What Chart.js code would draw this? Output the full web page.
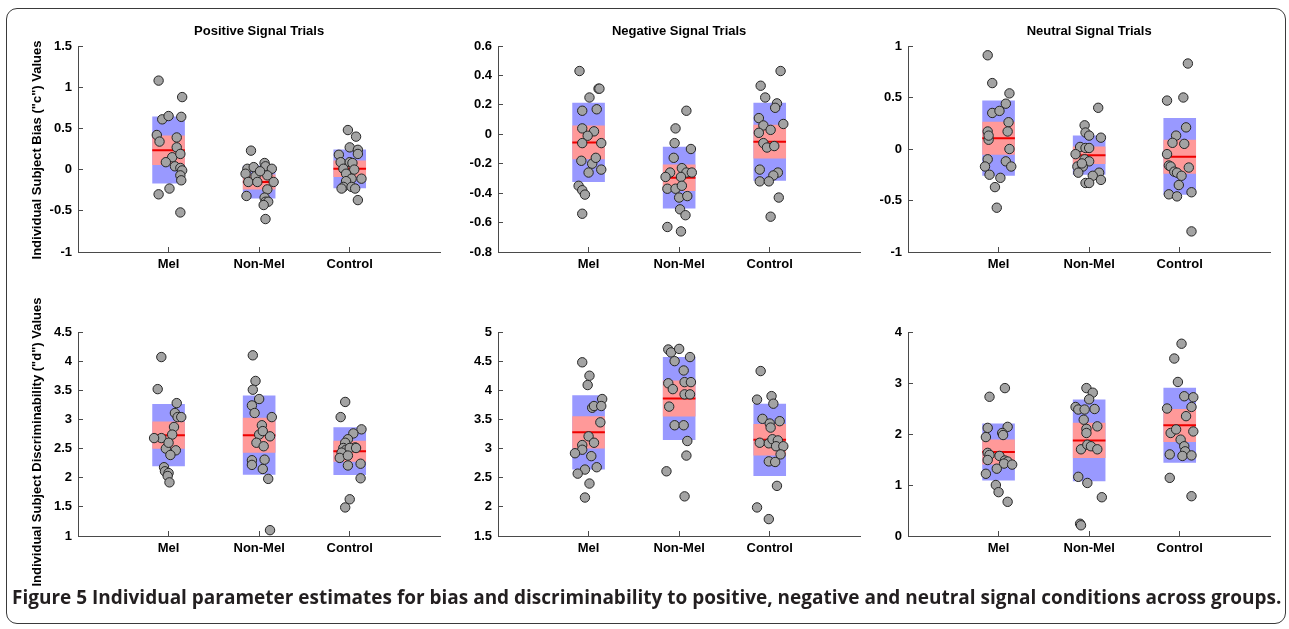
<!DOCTYPE html>
<html>
<head>
<meta charset="utf-8">
<script src="https://cdn.jsdelivr.net/npm/chart.js@4.4.1/dist/chart.umd.min.js"></script>
<style>
html,body{margin:0;padding:0;background:#fff;}
#page{position:relative;width:1289px;height:629px;overflow:hidden;background:#fff;}
#frame{position:absolute;left:6px;top:8px;width:1280px;height:616px;border:1.5px solid #3a3a3a;border-radius:11px;box-sizing:border-box;}
canvas.cv{position:absolute;}
.ylab{position:absolute;font:bold 13px "Liberation Sans",Arial,sans-serif;color:#000;white-space:nowrap;transform:translate(-50%,-50%) rotate(-90deg);}
#caption{position:absolute;left:12px;top:588px;white-space:nowrap;font-family:"Open Sans",sans-serif;font-weight:700;font-size:16px;line-height:1;color:#231f20;}
#caption b{font-weight:700;}
</style>
</head>
<body>
<div id="page">
  <div id="frame"></div>
  <canvas class="cv" id="c1"></canvas>
  <canvas class="cv" id="c2"></canvas>
  <canvas class="cv" id="c3"></canvas>
  <canvas class="cv" id="c4"></canvas>
  <canvas class="cv" id="c5"></canvas>
  <canvas class="cv" id="c6"></canvas>
  <div class="ylab" id="yl1"></div>
  <div class="ylab" id="yl2"></div>
  <div id="caption"></div>
</div>
<script>
// ---------------- DATA ----------------
const groups = ['Mel', 'Non-Mel', 'Control'];
const panelTitles = ['Positive Signal Trials', 'Negative Signal Trials', 'Neutral Signal Trials'];
const yLabelBias = 'Individual Subject Bias ("c") Values';
const yLabelDisc = 'Individual Subject Discriminability ("d") Values';
const captionLead = 'Figure 5';
const captionText = 'Individual parameter estimates for bias and discriminability to positive, negative and neutral signal conditions across groups.';

// Positive signal trials – bias (c)
const posC_Mel = [[0.89,1.08],[1.15,0.88],[0.93,0.61],[1.00,0.65],[1.14,0.64],[0.87,0.42],[0.90,0.34],[1.09,0.39],[1.09,0.27],[1.04,0.15],[1.13,0.19],[0.97,0.09],[1.07,0.04],[1.13,0.02],[1.15,-0.01],[1.13,-0.07],[1.14,-0.13],[1.01,-0.23],[0.89,-0.30],[1.13,-0.52]];
const posC_Non = [[1.91,0.23],[1.87,0.01],[1.94,0.03],[2.06,0.08],[2.07,0.04],[2.14,0.01],[1.85,-0.05],[1.96,-0.08],[1.88,-0.15],[1.98,-0.15],[2.09,-0.07],[2.16,-0.15],[2.09,-0.24],[1.86,-0.32],[2.06,-0.34],[2.07,-0.39],[2.10,-0.39],[2.05,-0.43],[2.07,-0.60],[2.01,-0.02]];
const posC_Ctl = [[2.98,0.48],[3.07,0.40],[3.00,0.27],[3.09,0.24],[3.09,0.19],[2.88,0.18],[2.90,0.09],[3.00,0.09],[3.03,0.08],[2.93,0.01],[3.05,0.00],[2.96,-0.05],[3.02,-0.11],[3.13,-0.11],[2.96,-0.14],[2.93,-0.21],[2.91,-0.23],[3.02,-0.21],[3.06,-0.23],[3.09,-0.37]];
const posC_mean = [0.235, -0.15, 0.01];
const posC_sd = [[-0.17,0.645],[-0.35,0.05],[-0.225,0.245]];
const posC_ci = [[0.055,0.415],[-0.24,-0.06],[-0.09,0.11]];
const posC_ticks = [-1,-0.5,0,0.5,1,1.5];

// Negative signal trials – bias (c)
const negC_Mel = [[0.90,0.43],[1.11,0.31],[1.12,0.31],[1.01,0.25],[0.93,0.16],[1.09,0.17],[0.93,0.04],[1.06,0.02],[0.99,-0.01],[0.93,-0.06],[1.14,-0.06],[0.92,-0.18],[1.04,-0.20],[1.08,-0.16],[1.00,-0.26],[1.14,-0.24],[0.89,-0.35],[0.93,-0.38],[0.96,-0.41],[0.93,-0.54]];
const negC_Non = [[2.08,0.16],[1.96,0.04],[1.95,-0.06],[2.13,-0.10],[1.94,-0.16],[1.90,-0.26],[2.03,-0.23],[2.08,-0.26],[2.14,-0.26],[1.85,-0.29],[2.02,-0.29],[1.87,-0.37],[1.96,-0.37],[2.03,-0.35],[2.00,-0.43],[2.09,-0.42],[2.01,-0.51],[2.07,-0.55],[1.87,-0.63],[2.02,-0.66]];
const negC_Ctl = [[3.12,0.43],[2.90,0.33],[2.95,0.25],[3.08,0.21],[3.06,0.18],[3.15,0.07],[2.88,0.11],[2.93,0.06],[3.01,0.03],[2.88,0.01],[2.93,-0.06],[2.97,-0.09],[3.05,-0.08],[2.89,-0.24],[3.09,-0.26],[3.04,-0.28],[2.89,-0.32],[2.99,-0.32],[3.10,-0.43],[3.01,-0.56]];
const negC_mean = [-0.055, -0.295, -0.05];
const negC_sd = [[-0.325,0.215],[-0.505,-0.085],[-0.315,0.215]];
const negC_ci = [[-0.17,0.06],[-0.385,-0.205],[-0.165,0.065]];
const negC_ticks = [-0.8,-0.6,-0.4,-0.2,0,0.2,0.4,0.6];

// Neutral signal trials – bias (c)
const neuC_Mel = [[0.88,0.91],[0.93,0.64],[1.12,0.54],[1.08,0.44],[0.93,0.35],[1.01,0.37],[1.11,0.26],[0.88,0.17],[1.10,0.17],[0.89,0.09],[0.89,0.13],[1.12,0.00],[0.88,-0.10],[1.08,-0.12],[0.85,-0.17],[1.14,-0.17],[0.90,-0.25],[1.02,-0.28],[0.96,-0.37],[0.98,-0.57]];
const neuC_Non = [[2.10,0.40],[1.95,0.23],[1.96,0.16],[2.00,0.13],[2.13,0.11],[1.90,0.02],[1.96,0.01],[2.00,0.01],[1.85,-0.05],[1.95,-0.10],[2.00,-0.12],[1.87,-0.17],[1.93,-0.17],[1.88,-0.23],[2.11,-0.23],[2.04,-0.26],[2.13,-0.30],[1.96,-0.33],[2.00,-0.33],[1.92,-0.14]];
const neuC_Ctl = [[3.09,0.83],[2.86,0.47],[3.04,0.50],[3.07,0.21],[2.96,0.13],[2.92,0.06],[3.05,0.05],[2.86,-0.05],[2.88,-0.16],[2.90,-0.17],[2.94,-0.22],[2.97,-0.23],[3.02,-0.26],[3.10,-0.18],[2.99,-0.35],[2.88,-0.44],[2.97,-0.46],[3.13,-0.42],[3.13,-0.80]];
const neuC_mean = [0.105, -0.06, -0.075];
const neuC_sd = [[-0.26,0.47],[-0.25,0.13],[-0.445,0.30]];
const neuC_ci = [[-0.055,0.265],[-0.145,0.025],[-0.24,0.09]];
const neuC_ticks = [-1,-0.5,0,0.5,1];

// Positive signal trials – discriminability (d)
const posD_Mel = [[0.92,4.07],[0.88,3.52],[1.09,3.28],[1.07,3.11],[1.10,3.04],[1.14,3.04],[1.06,2.87],[0.92,2.68],[1.04,2.74],[0.97,2.50],[1.00,2.60],[1.08,2.47],[1.02,2.39],[0.84,2.68],[0.95,2.18],[0.96,2.11],[1.00,2.08],[0.99,2.03],[1.01,1.92]];
const posD_Non = [[1.93,4.10],[1.96,3.66],[1.93,3.51],[2.00,3.35],[1.92,3.24],[1.95,3.11],[2.14,3.04],[2.03,2.90],[2.00,2.74],[2.12,2.71],[1.97,2.60],[2.05,2.54],[2.06,2.31],[1.92,2.30],[1.92,2.22],[2.04,2.15],[2.10,1.98],[2.12,1.10],[2.04,2.80]];
const posD_Ctl = [[2.95,3.30],[2.90,3.04],[3.13,2.83],[3.04,2.76],[2.98,2.66],[2.95,2.60],[3.06,2.52],[2.93,2.51],[2.96,2.48],[3.00,2.51],[2.91,2.43],[2.89,2.34],[2.98,2.38],[3.07,2.51],[2.98,2.21],[3.12,2.24],[3.12,1.99],[3.00,1.63],[2.95,1.49]];
const posD_mean = [2.73, 2.73, 2.455];
const posD_sd = [[2.195,3.265],[2.05,3.41],[2.045,2.865]];
const posD_ci = [[2.495,2.965],[2.43,3.03],[2.275,2.635]];
const posD_ticks = [1,1.5,2,2.5,3,3.5,4,4.5];

// Negative signal trials – discriminability (d)
const negD_Mel = [[0.93,4.48],[1.01,4.25],[0.99,4.09],[1.15,3.85],[1.04,3.70],[1.06,3.73],[1.14,3.73],[1.13,3.45],[1.00,3.21],[1.06,3.10],[0.93,3.06],[0.93,2.98],[0.85,2.92],[1.03,2.87],[1.09,2.68],[0.96,2.64],[0.88,2.57],[1.01,2.40],[0.96,2.16]];
const negD_Non = [[1.88,4.70],[1.91,4.65],[2.00,4.71],[1.95,4.50],[2.12,4.57],[2.05,4.34],[1.88,4.12],[1.93,4.02],[2.06,4.14],[2.13,4.14],[2.06,3.93],[2.12,3.93],[1.89,3.72],[1.95,3.40],[2.05,3.40],[2.09,3.13],[2.08,2.88],[1.86,2.61],[2.06,2.18]];
const negD_Ctl = [[2.90,4.33],[2.86,3.84],[3.02,3.90],[3.04,3.77],[2.92,3.51],[3.00,3.43],[3.11,3.47],[3.01,3.36],[2.89,3.10],[2.99,3.09],[3.03,3.16],[3.09,3.14],[3.07,3.04],[3.15,3.04],[3.12,2.90],[2.99,2.78],[3.06,2.77],[3.08,2.36],[2.86,1.99],[2.99,1.79]];
const negD_mean = [3.28, 3.86, 3.15];
const negD_sd = [[2.64,3.915],[3.145,4.57],[2.53,3.77]];
const negD_ci = [[3.0,3.555],[3.55,4.17],[2.88,3.42]];
const negD_ticks = [1.5,2,2.5,3,3.5,4,4.5,5];

// Neutral signal trials – discriminability (d)
const neuD_Mel = [[1.07,2.90],[0.90,2.73],[1.10,2.14],[0.88,2.12],[1.04,2.02],[1.05,1.98],[0.86,1.94],[0.88,1.63],[0.90,1.59],[0.88,1.49],[1.01,1.57],[1.07,1.48],[1.10,1.46],[1.06,1.42],[1.15,1.40],[0.98,1.32],[0.86,1.22],[0.97,1.00],[1.00,0.86],[1.10,0.67]];
const neuD_Non = [[1.97,2.90],[2.04,2.81],[2.00,2.68],[1.85,2.53],[1.88,2.48],[1.95,2.48],[2.06,2.49],[1.94,2.28],[2.09,2.15],[1.97,2.10],[1.97,2.02],[1.91,1.70],[1.98,1.79],[2.02,1.76],[2.09,1.70],[1.88,1.16],[1.98,1.04],[2.14,0.76],[1.90,0.24],[1.91,0.21]];
const neuD_Ctl = [[3.02,3.77],[2.94,3.48],[2.98,3.02],[3.05,2.74],[3.15,2.72],[3.13,2.53],[2.86,2.50],[3.07,2.35],[2.90,2.02],[2.96,2.09],[3.15,2.05],[3.01,1.89],[3.05,1.76],[3.06,1.66],[3.03,1.57],[3.13,1.58],[2.89,1.60],[2.89,1.14],[3.13,0.78]];
const neuD_mean = [1.645, 1.875, 2.17];
const neuD_sd = [[1.09,2.205],[1.075,2.675],[1.435,2.905]];
const neuD_ci = [[1.40,1.89],[1.53,2.22],[1.845,2.49]];
const neuD_ticks = [0,1,2,3,4];

// ---------------- STYLE / LAYOUT ----------------
const BOX_HALF = 0.18;          // half width of the boxes, in category units
const Y_AXIS_W = 44;
const X_AXIS_H = 35;
const TOP_SPACE = 40;
const RIGHT_PAD = 4;
const FONT = '"Liberation Sans", Arial, Helvetica, sans-serif';
const AXIS_COLOR = '#4a4a4a';

function makePanel(id, left, top, plotH, title, pts, mean, sd, ci, ticks) {
  const cv = document.getElementById(id);
  const w = Y_AXIS_W + 364 + RIGHT_PAD;
  const h = TOP_SPACE + plotH + X_AXIS_H;
  cv.width = w; cv.height = h;
  cv.style.left = left + 'px'; cv.style.top = top + 'px';
  cv.style.width = w + 'px'; cv.style.height = h + 'px';

  const datasets = [];
  datasets.push({
    type: 'bar', data: sd.map((r, i) => ({x: i + 1, y: r})),
    backgroundColor: '#9999ff', borderWidth: 0, grouped: false,
    barPercentage: BOX_HALF * 2, categoryPercentage: 1, order: 4
  });
  datasets.push({
    type: 'bar', data: ci.map((r, i) => ({x: i + 1, y: r})),
    backgroundColor: '#ff9999', borderWidth: 0, grouped: false,
    barPercentage: BOX_HALF * 2, categoryPercentage: 1, order: 3
  });
  mean.forEach((m, i) => {
    datasets.push({
      type: 'line', data: [{x: i + 1 - BOX_HALF, y: m}, {x: i + 1 + BOX_HALF, y: m}],
      borderColor: '#ee0000', borderWidth: 2, pointRadius: 0, fill: false, order: 2
    });
  });
  pts.forEach(p => {
    datasets.push({
      type: 'scatter', data: p.map(([x, y]) => ({x, y})),
      pointRadius: 4.7, pointBackgroundColor: '#a3a3a3', pointBorderColor: '#262626',
      pointBorderWidth: 1, order: 1
    });
  });

  return new Chart(cv, {
    type: 'scatter',
    data: {datasets},
    options: {
      responsive: false, animation: false, devicePixelRatio: 1,
      layout: {padding: {top: title ? 0 : TOP_SPACE, right: RIGHT_PAD, left: 0, bottom: 0}},
      plugins: {
        legend: {display: false}, tooltip: {enabled: false},
        title: {
          display: !!title, text: title || '', fullSize: false,
          color: '#000', font: {family: FONT, size: 13, weight: 'bold', lineHeight: 1.2},
          padding: {top: 17.7, bottom: TOP_SPACE - 17.7 - 15.6}
        }
      },
      scales: {
        x: {
          type: 'linear', min: 0, max: 4, offset: false,
          afterBuildTicks: s => { s.ticks = groups.map((g, i) => ({value: i + 1})); },
          afterFit: s => { s.height = X_AXIS_H; },
          ticks: {
            callback: v => groups[v - 1], color: '#000', padding: 10,
            font: {family: FONT, size: 13, weight: 'bold'}, maxRotation: 0, autoSkip: false
          },
          grid: {offset: false, drawOnChartArea: false, drawTicks: true, tickLength: -5, color: AXIS_COLOR, lineWidth: 1},
          border: {display: true, color: AXIS_COLOR, width: 1}
        },
        y: {
          type: 'linear', min: ticks[0], max: ticks[ticks.length - 1],
          afterBuildTicks: s => { s.ticks = ticks.map(v => ({value: v})); },
          afterFit: s => { s.width = Y_AXIS_W; },
          ticks: {
            callback: v => String(v), color: '#000', padding: 11,
            font: {family: FONT, size: 13, weight: 'bold'}, autoSkip: false
          },
          grid: {offset: false, drawOnChartArea: false, drawTicks: true, tickLength: -5, color: AXIS_COLOR, lineWidth: 1},
          border: {display: true, color: AXIS_COLOR, width: 1}
        }
      }
    }
  });
}

makePanel('c1', 78 - Y_AXIS_W, 6, 206, panelTitles[0], [posC_Mel, posC_Non, posC_Ctl], posC_mean, posC_sd, posC_ci, posC_ticks);
makePanel('c2', 498 - Y_AXIS_W, 6, 206, panelTitles[1], [negC_Mel, negC_Non, negC_Ctl], negC_mean, negC_sd, negC_ci, negC_ticks);
makePanel('c3', 908 - Y_AXIS_W, 6, 206, panelTitles[2], [neuC_Mel, neuC_Non, neuC_Ctl], neuC_mean, neuC_sd, neuC_ci, neuC_ticks);
makePanel('c4', 78 - Y_AXIS_W, 292, 204, null, [posD_Mel, posD_Non, posD_Ctl], posD_mean, posD_sd, posD_ci, posD_ticks);
makePanel('c5', 498 - Y_AXIS_W, 292, 204, null, [negD_Mel, negD_Non, negD_Ctl], negD_mean, negD_sd, negD_ci, negD_ticks);
makePanel('c6', 908 - Y_AXIS_W, 292, 204, null, [neuD_Mel, neuD_Non, neuD_Ctl], neuD_mean, neuD_sd, neuD_ci, neuD_ticks);

// y-axis labels
const yl1 = document.getElementById('yl1');
yl1.textContent = yLabelBias; yl1.style.left = '36px'; yl1.style.top = '150px';
const yl2 = document.getElementById('yl2');
yl2.textContent = yLabelDisc; yl2.style.left = '36px'; yl2.style.top = '442px';

// caption, fitted to the frame width
const cap = document.getElementById('caption');
cap.innerHTML = '';
const b = document.createElement('b'); b.textContent = captionLead; cap.appendChild(b);
cap.appendChild(document.createTextNode(' ' + captionText));
const targetW = 1270;
const fs = 16 * targetW / cap.scrollWidth;
cap.style.fontSize = fs.toFixed(2) + 'px';
cap.style.top = (597 - fs / 2).toFixed(1) + 'px';
</script>
</body>
</html>
